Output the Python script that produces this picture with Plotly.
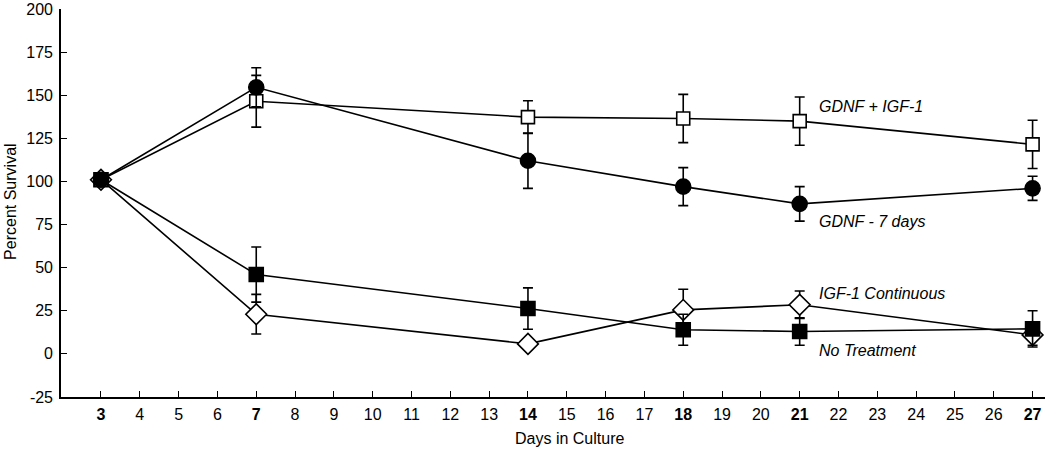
import plotly.graph_objects as go

days = [3, 7, 14, 18, 21, 27]

gdnf_igf = [101, 146.5, 137.3, 136.5, 135, 121.5]
gdnf_igf_err = [0, 15, 9.5, 14, 14, 14]

gdnf_7 = [101, 154.6, 112, 97, 87, 96]
gdnf_7_err = [0, 11.3, 16, 11, 10, 7]

no_treat = [101, 46, 26.3, 14, 13, 14.5]
no_treat_err = [0, 16, 12, 9, 8, 10.5]

igf_cont = [101, 23, 5.8, 25.5, 28.5, 11]
igf_cont_err = [0, 11.5, 0, 12, 8, 6]

x_ticks = list(range(3, 28))
bold_days = {3, 7, 14, 18, 21, 27}
x_ticktext = [f"<b>{d}</b>" if d in bold_days else str(d) for d in x_ticks]
y_ticks = [-25, 0, 25, 50, 75, 100, 125, 150, 175, 200]
y_ticktext = [str(v) for v in y_ticks]

labels = ["GDNF + IGF-1", "GDNF - 7 days", "IGF-1 Continuous", "No Treatment"]
label_y = [143.3, 76.9, 35, 2]

FONT = "Liberation Sans, Arial, Helvetica"

fig = go.Figure()

def add(y, err, symbol, size, fill):
    fig.add_trace(go.Scatter(
        x=days, y=y, mode="lines+markers", cliponaxis=False,
        line=dict(color="black", width=1.6),
        marker=dict(symbol=symbol, size=size, color=fill,
                    line=dict(color="black", width=1.6)),
        error_y=dict(type="data", array=err, visible=True,
                     color="black", thickness=1.6, width=5),
        showlegend=False, hoverinfo="x+y",
    ))

add(igf_cont, igf_cont_err, "diamond", 16, "white")
add(no_treat, no_treat_err, "square", 14, "black")
add(gdnf_igf, gdnf_igf_err, "square", 13, "white")
add(gdnf_7, gdnf_7_err, "circle", 15, "black")

for t, yy in zip(labels, label_y):
    fig.add_annotation(x=21.45, y=yy, text=f"<i>{t}</i>", showarrow=False,
                       xanchor="left", yanchor="middle",
                       font=dict(family=FONT, size=16, color="black"))

# axis titles
fig.add_annotation(xref="paper", yref="paper", x=0.517, y=-0.106,
                   text="Days in Culture", showarrow=False,
                   xanchor="center", yanchor="middle",
                   font=dict(family=FONT, size=16, color="black"))
fig.add_annotation(xref="paper", yref="paper", x=-0.052, y=0.505,
                   text="Percent Survival", showarrow=False, textangle=-90,
                   xanchor="center", yanchor="middle",
                   font=dict(family=FONT, size=16, color="black"))

fig.update_layout(
    width=1050, height=452,
    margin=dict(l=61, r=5, t=9, b=55),
    plot_bgcolor="white", paper_bgcolor="white",
    font=dict(family=FONT, size=16, color="black"),
    xaxis=dict(
        range=[1.97, 27.32], tickvals=x_ticks, ticktext=x_ticktext,
        ticks="inside", ticklen=6, tickwidth=1.3, tickcolor="black",
        showline=True, linecolor="black", linewidth=1.6,
        showgrid=False, zeroline=False, automargin=False,
        tickfont=dict(size=16), ticklabelstandoff=2,
    ),
    yaxis=dict(
        range=[-25, 200], tickvals=y_ticks, ticktext=y_ticktext,
        ticks="inside", ticklen=6, tickwidth=1.3, tickcolor="black",
        showline=True, linecolor="black", linewidth=1.6,
        showgrid=False, zeroline=False, automargin=False,
        tickfont=dict(size=16), ticklabelstandoff=3,
    ),
)

fig.write_html("out.html", config={"displayModeBar": False},
               post_script="document.body.style.margin='0';document.body.style.overflow='hidden';")
